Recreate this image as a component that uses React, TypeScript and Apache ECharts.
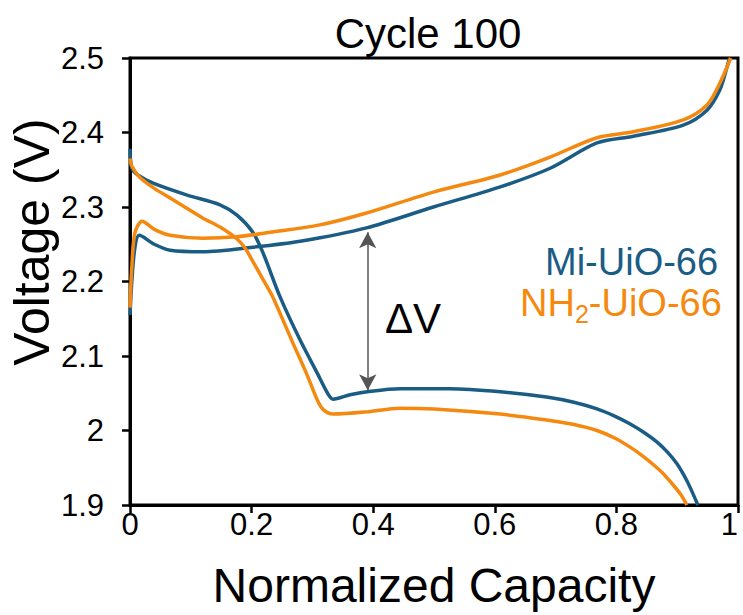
import React, { useEffect, useRef } from "react";
import * as echarts from "echarts";

// Voltage profiles at cycle 100: [normalized capacity, voltage (V)]
const miDischarge: [number, number][] = [
  [0, 2.378], [0.003, 2.352], [0.013, 2.343], [0.038, 2.332], [0.094, 2.316],
  [0.148, 2.303], [0.176, 2.289], [0.202, 2.266], [0.219, 2.238], [0.247, 2.179],
  [0.28, 2.121], [0.308, 2.077], [0.325, 2.05], [0.334, 2.042], [0.362, 2.048],
  [0.39, 2.052], [0.444, 2.056], [0.526, 2.056], [0.609, 2.052], [0.685, 2.045],
  [0.73, 2.038], [0.768, 2.029], [0.798, 2.019], [0.822, 2.009], [0.846, 1.997],
  [0.866, 1.985], [0.884, 1.971], [0.899, 1.956], [0.911, 1.94], [0.921, 1.924],
  [0.934, 1.9],
];
const miCharge: [number, number][] = [
  [0, 2.155], [0.003, 2.2], [0.008, 2.245], [0.015, 2.262], [0.04, 2.25],
  [0.066, 2.242], [0.12, 2.24], [0.202, 2.246], [0.28, 2.254], [0.389, 2.272],
  [0.499, 2.3], [0.609, 2.327], [0.691, 2.352], [0.768, 2.386], [0.828, 2.395],
  [0.91, 2.41], [0.949, 2.43], [0.97, 2.457], [0.982, 2.488], [0.986, 2.5],
];
const nhDischarge: [number, number][] = [
  [0, 2.365], [0.003, 2.355], [0.016, 2.34], [0.04, 2.325], [0.066, 2.312],
  [0.094, 2.298], [0.12, 2.285], [0.148, 2.273], [0.176, 2.257], [0.19, 2.244],
  [0.202, 2.227], [0.218, 2.204], [0.235, 2.179], [0.266, 2.121], [0.29, 2.077],
  [0.308, 2.041], [0.318, 2.028], [0.334, 2.022], [0.39, 2.025], [0.444, 2.03],
  [0.5, 2.029], [0.609, 2.022], [0.685, 2.014], [0.73, 2.008], [0.768, 2.0],
  [0.797, 1.99], [0.822, 1.978], [0.843, 1.966], [0.861, 1.954], [0.876, 1.943],
  [0.888, 1.932], [0.905, 1.915], [0.916, 1.9],
];
const nhCharge: [number, number][] = [
  [0, 2.165], [0.003, 2.22], [0.008, 2.265], [0.02, 2.281], [0.04, 2.27],
  [0.066, 2.262], [0.12, 2.258], [0.176, 2.26], [0.23, 2.266], [0.312, 2.276],
  [0.389, 2.292], [0.499, 2.32], [0.609, 2.343], [0.691, 2.367], [0.768, 2.393],
  [0.828, 2.401], [0.91, 2.417], [0.949, 2.437], [0.97, 2.466], [0.988, 2.5],
];

// Overpotential marker (ΔV) between the two curves
const deltaX = [0.391];
const deltaV = [2.266, 2.054];

const xTicks = [0, 0.2, 0.4, 0.6, 0.8, 1];
const yTicks = [1.9, 2.0, 2.1, 2.2, 2.3, 2.4, 2.5];

const BLUE = "#1b5c85";
const ORANGE = "#f5890f";
const FONT = "Liberation Sans, Arial, sans-serif";

const lineSeries = (name: string, data: [number, number][], color: string) => ({
  name,
  type: "line",
  data,
  showSymbol: false,
  smooth: 0.3,
  lineStyle: { color, width: 3.5 },
  itemStyle: { color },
  emphasis: { disabled: true },
  z: 3,
});

export default function App() {
  const ref = useRef<HTMLDivElement>(null);

  useEffect(() => {
    if (!ref.current) return;
    const chart = echarts.init(ref.current, null, { renderer: "svg" });
    chart.setOption({
      animation: false,
      backgroundColor: "#ffffff",
      textStyle: { fontFamily: FONT },
      grid: {
        left: 130,
        right: 5,
        top: 58,
        bottom: 110,
        outerBoundsMode: "none",
        containLabel: false,
        show: true,
        borderColor: "#000",
        borderWidth: 3,
      },
      xAxis: {
        type: "value",
        min: xTicks[0],
        max: xTicks[xTicks.length - 1],
        interval: 0.2,
        name: "Normalized Capacity",
        nameLocation: "middle",
        nameGap: 56,
        nameTextStyle: { fontSize: 48, color: "#000", fontFamily: FONT },
        axisLine: { lineStyle: { color: "#000", width: 3 } },
        axisTick: { show: true, inside: false, length: 8, lineStyle: { color: "#000", width: 2.5 } },
        axisLabel: {
          fontSize: 31,
          color: "#000",
          margin: 4,
          fontFamily: FONT,
          alignMaxLabel: "right",
          formatter: (v: number) => String(+v.toFixed(1)),
        },
        splitLine: { show: false },
      },
      yAxis: {
        type: "value",
        min: yTicks[0],
        max: yTicks[yTicks.length - 1],
        interval: 0.1,
        axisLine: { show: true, lineStyle: { color: "#000", width: 3 } },
        axisTick: { show: true, inside: false, length: 8, lineStyle: { color: "#000", width: 2.5 } },
        axisLabel: {
          fontSize: 31,
          color: "#000",
          margin: 26,
          fontFamily: FONT,
          formatter: (v: number) => String(+v.toFixed(1)),
        },
        splitLine: { show: false },
      },
      graphic: [
        {
          type: "text",
          x: 428,
          y: 33,
          style: {
            text: "Cycle 100",
            font: `42px ${FONT}`,
            fill: "#000",
            textAlign: "center",
            textVerticalAlign: "middle",
          },
        },
        {
          type: "text",
          x: 32,
          y: 242,
          rotation: Math.PI / 2,
          style: {
            text: "Voltage (V)",
            font: `50px ${FONT}`,
            fill: "#000",
            textAlign: "center",
            textVerticalAlign: "middle",
          },
        },
        {
          type: "text",
          x: 545,
          y: 262,
          style: {
            text: "Mi-UiO-66",
            font: `38px ${FONT}`,
            fill: BLUE,
            textAlign: "left",
            textVerticalAlign: "middle",
          },
        },
        {
          type: "text",
          x: 520,
          y: 303,
          style: {
            text: "{a|NH}{b|2}{a|-UiO-66}",
            textAlign: "left",
            textVerticalAlign: "middle",
            rich: {
              a: { fontSize: 38, fontFamily: FONT, fill: ORANGE, lineHeight: 46, verticalAlign: "middle" },
              b: { fontSize: 25, fontFamily: FONT, fill: ORANGE, lineHeight: 25, verticalAlign: "bottom" },
            },
          },
        },
        {
          type: "text",
          x: 413,
          y: 318,
          style: {
            text: "ΔV",
            font: `42px ${FONT}`,
            fill: "#000",
            textAlign: "center",
            textVerticalAlign: "middle",
          },
        },
      ],
      series: [
        {
          ...lineSeries("Mi-UiO-66 discharge", miDischarge, BLUE),
          markLine: {
            silent: true,
            symbol: ["arrow", "arrow"],
            symbolSize: [13, 16],
            label: { show: false },
            itemStyle: { color: "#000" },
            lineStyle: { color: "#555", width: 1.5, type: "solid" },
            emphasis: { disabled: true },
            data: [
              [
                { coord: [deltaX[0], deltaV[0]] },
                { coord: [deltaX[0], deltaV[1]] },
              ],
            ],
          },
        },
        lineSeries("Mi-UiO-66 charge", miCharge, BLUE),
        lineSeries("NH2-UiO-66 discharge", nhDischarge, ORANGE),
        lineSeries("NH2-UiO-66 charge", nhCharge, ORANGE),
      ],
    });
    return () => chart.dispose();
  }, []);

  return (
    <div
      ref={ref}
      style={{ position: "absolute", left: 0, top: 0, width: 743, height: 615 }}
    />
  );
}
